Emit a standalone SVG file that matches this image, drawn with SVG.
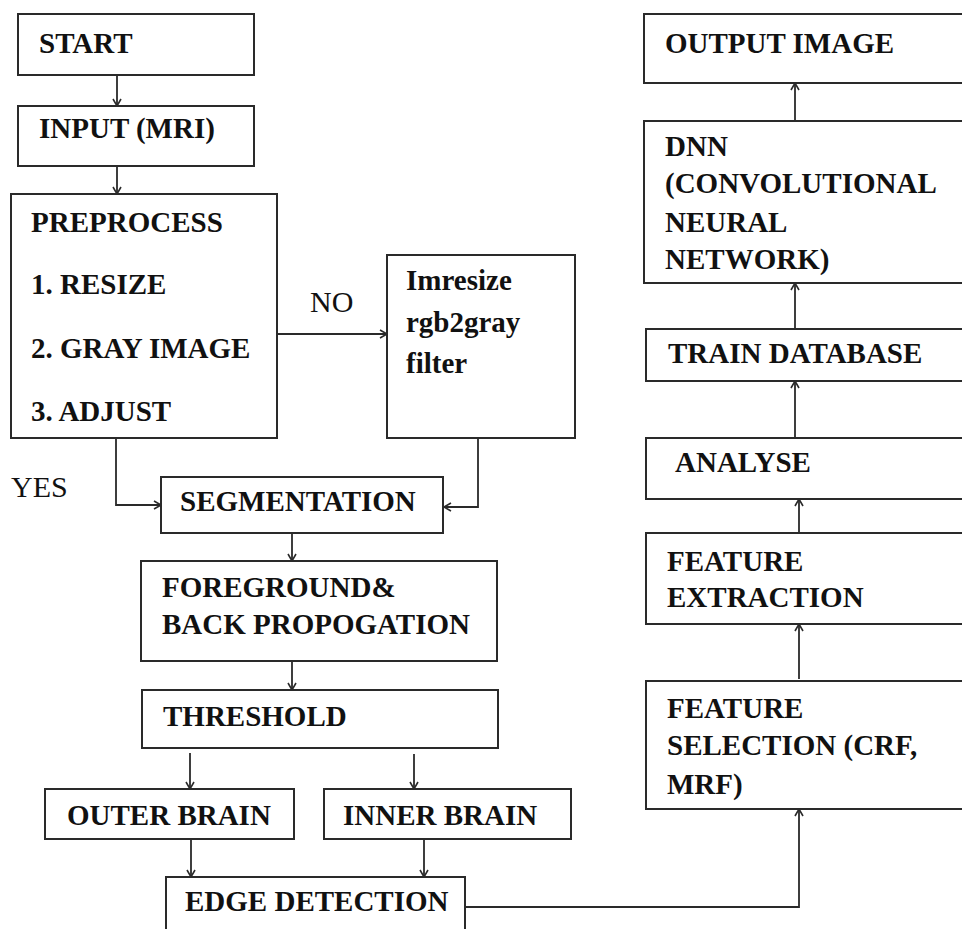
<svg xmlns="http://www.w3.org/2000/svg" width="962" height="929" viewBox="0 0 962 929">
<defs>
<style>
.box{fill:#fff;stroke:#2a2a2a;stroke-width:2}
.t{font-family:"Liberation Serif","Times New Roman",serif;font-weight:bold;font-size:29px;fill:#111}
.r{font-family:"Liberation Serif","Times New Roman",serif;font-size:30px;fill:#111}
.c{fill:none;stroke:#2a2a2a;stroke-width:1.8}
</style>
<marker id="ah" markerUnits="userSpaceOnUse" markerWidth="12" markerHeight="12" viewBox="0 0 12 12" refX="10" refY="6" orient="auto">
<path d="M3,2 L10,6 L3,10" fill="none" stroke="#2a2a2a" stroke-width="1.6"/>
</marker>
</defs>
<rect width="962" height="929" fill="#fff"/>

<g id="connectors">
<path class="c" d="M117,75 V106" marker-end="url(#ah)"/>
<path class="c" d="M117,166 V194" marker-end="url(#ah)"/>
<path class="c" d="M278,334 H387" marker-end="url(#ah)"/>
<path class="c" d="M116,438 V505 H161" marker-end="url(#ah)"/>
<path class="c" d="M478,438 V507 H444" marker-end="url(#ah)"/>
<path class="c" d="M292,533 V561" marker-end="url(#ah)"/>
<path class="c" d="M292,661 V690" marker-end="url(#ah)"/>
<path class="c" d="M190,753 V789" marker-end="url(#ah)"/>
<path class="c" d="M414,754 V789" marker-end="url(#ah)"/>
<path class="c" d="M191,839 V877" marker-end="url(#ah)"/>
<path class="c" d="M424,839 V877" marker-end="url(#ah)"/>
<path class="c" d="M465,907 H799 V809" marker-end="url(#ah)"/>
<path class="c" d="M799,679 V624" marker-end="url(#ah)"/>
<path class="c" d="M799,533 V499" marker-end="url(#ah)"/>
<path class="c" d="M795,438 V381" marker-end="url(#ah)"/>
<path class="c" d="M795,329 V283" marker-end="url(#ah)"/>
<path class="c" d="M795,121 V83" marker-end="url(#ah)"/>
<text class="r" x="310" y="312">NO</text>
<text class="r" x="11" y="497">YES</text>
</g>

<g id="start"><rect class="box" x="18" y="14" width="236" height="61"/><text class="t" x="39" y="53">START</text></g>
<g id="input"><rect class="box" x="18" y="106" width="236" height="60"/><text class="t" x="39" y="138">INPUT (MRI)</text></g>
<g id="preprocess"><rect class="box" x="11" y="194" width="266" height="244"/>
<text class="t" x="31" y="232">PREPROCESS</text>
<text class="t" x="31" y="294">1. RESIZE</text>
<text class="t" x="31" y="358">2. GRAY IMAGE</text>
<text class="t" x="31" y="421">3. ADJUST</text></g>
<g id="imresize"><rect class="box" x="387" y="255" width="188" height="183"/>
<text class="t" x="406" y="290">Imresize</text>
<text class="t" x="406" y="332">rgb2gray</text>
<text class="t" x="406" y="373">filter</text></g>
<g id="segmentation"><rect class="box" x="161" y="477" width="282" height="56"/><text class="t" x="180" y="511">SEGMENTATION</text></g>
<g id="foreground"><rect class="box" x="141" y="561" width="356" height="100"/>
<text class="t" x="162" y="597">FOREGROUND&amp;</text>
<text class="t" x="162" y="634">BACK PROPOGATION</text></g>
<g id="threshold"><rect class="box" x="142" y="690" width="356" height="58"/><text class="t" x="163" y="726">THRESHOLD</text></g>
<g id="outer"><rect class="box" x="45" y="789" width="249" height="50"/><text class="t" x="67" y="825">OUTER BRAIN</text></g>
<g id="inner"><rect class="box" x="324" y="789" width="247" height="50"/><text class="t" x="343" y="825">INNER BRAIN</text></g>
<g id="edge"><rect class="box" x="166" y="877" width="299" height="70"/><text class="t" x="185" y="911">EDGE DETECTION</text></g>

<g id="output"><rect class="box" x="644" y="14" width="330" height="69"/><text class="t" x="665" y="53">OUTPUT IMAGE</text></g>
<g id="dnn"><rect class="box" x="644" y="121" width="330" height="162"/>
<text class="t" x="665" y="156">DNN</text>
<text class="t" x="665" y="193">(CONVOLUTIONAL</text>
<text class="t" x="665" y="232">NEURAL</text>
<text class="t" x="665" y="269">NETWORK)</text></g>
<g id="train"><rect class="box" x="646" y="329" width="330" height="52"/><text class="t" x="668" y="363">TRAIN DATABASE</text></g>
<g id="analyse"><rect class="box" x="646" y="438" width="330" height="61"/><text class="t" x="675" y="472">ANALYSE</text></g>
<g id="extraction"><rect class="box" x="646" y="533" width="330" height="91"/>
<text class="t" x="667" y="571">FEATURE</text>
<text class="t" x="667" y="607">EXTRACTION</text></g>
<g id="selection"><rect class="box" x="646" y="681" width="330" height="128"/>
<text class="t" x="667" y="718">FEATURE</text>
<text class="t" x="667" y="755">SELECTION (CRF,</text>
<text class="t" x="667" y="794">MRF)</text></g>
</svg>
